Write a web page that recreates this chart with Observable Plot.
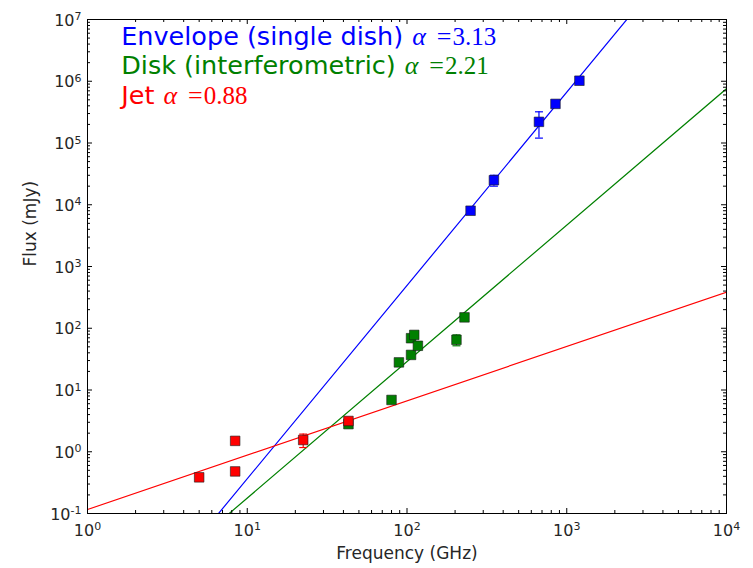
<!DOCTYPE html>
<html>
<head>
<meta charset="utf-8">
<script src="https://cdn.jsdelivr.net/npm/d3@7"></script>
<script src="https://cdn.jsdelivr.net/npm/@observablehq/plot@0.6"></script>
<style>
  body { margin: 0; background: #fff; }
</style>
</head>
<body>
<div id="chart"></div>
<script>
// Envelope (single-dish) continuum fluxes
const envFreq = [250, 350, 670, 850, 1200];            // GHz
const envFlux = [8000, 25000, 220000, 430000, 1020000]; // mJy
const envErr  = [800, 5000, 100000, 45000, 100000];

// Disk (interferometric) fluxes
const diskFreq = [43, 80, 89, 106, 106, 111, 117, 204, 229];
const diskFlux = [2.8, 6.9, 28, 37, 69, 78, 52, 65, 150];
const diskErr  = [0.3, 0.7, 2.8, 3.7, 6.9, 7.8, 5.2, 13, 15];

// Jet (free-free) fluxes
const jetFreq = [5, 8.4, 8.4, 22.4, 43];
const jetFlux = [0.385, 1.5, 0.48, 1.55, 3.15];
const jetErr  = [0.04, 0.15, 0.05, 0.38, 0.3];

// Power-law fits S = A * nu^alpha
const seriesNames  = ["Envelope (single dish)", "Disk (interferometric)", "Jet"];
const seriesColors = ["#0000ff", "#008000", "#ff0000"];
const fitAlpha  = [3.13, 2.21, 0.88];
const fitLogAmp = [-3.567, -2.96, -0.935];
const fitRange  = [1, 10000];

// Axis ticks
const xTicks = [1, 10, 100, 1000, 10000];
const yTicks = [0.1, 1, 10, 100, 1e3, 1e4, 1e5, 1e6, 1e7];

const W = 753, H = 568;
const mL = 87, mR = 27, mT = 19, mB = 55;
const plotW = W - mL - mR, plotH = H - mT - mB;

const minorOf = majors => majors.slice(0, -1).flatMap(m => d3.range(2, 10).map(k => k * m));
const xMinor = minorOf(xTicks);
const yMinor = minorOf(yTicks);

const rows = (freq, flux, err) => freq.map((f, i) => ({f, s: flux[i], e: err[i]}));
const series = [
  rows(envFreq, envFlux, envErr),
  rows(diskFreq, diskFlux, diskErr),
  rows(jetFreq, jetFlux, jetErr)
];
const fits = fitAlpha.map((a, i) => fitRange.map(f => ({f, s: Math.pow(10, fitLogAmp[i]) * Math.pow(f, a)})));

// horizontal cap for error bars
const capSymbol = {
  draw(context, size) {
    const w = Math.sqrt(size) / 2;
    context.moveTo(-w, 0);
    context.lineTo(w, 0);
  }
};

const exponent = v => Math.round(Math.log10(v));

const marks = [];

// fitted power laws
series.forEach((_, i) => {
  marks.push(Plot.line(fits[i], {x: "f", y: "s", stroke: seriesColors[i], strokeWidth: 1.2, clip: true}));
});

// error bars and data points
series.forEach((data, i) => {
  marks.push(Plot.ruleX(data, {x: "f", y1: d => d.s - d.e, y2: d => d.s + d.e, stroke: seriesColors[i], strokeWidth: 1.2}));
  marks.push(Plot.dot(data, {x: "f", y: d => d.s - d.e, symbol: capSymbol, r: 4.5, stroke: seriesColors[i], strokeWidth: 1.2, fill: "none"}));
  marks.push(Plot.dot(data, {x: "f", y: d => d.s + d.e, symbol: capSymbol, r: 4.5, stroke: seriesColors[i], strokeWidth: 1.2, fill: "none"}));
});
series.forEach((data, i) => {
  marks.push(Plot.dot(data, {x: "f", y: "s", symbol: "square", r: 5.4, fill: seriesColors[i], stroke: "#1a1a1a", strokeWidth: 0.6}));
});

// inward ticks on all four sides
marks.push(
  Plot.tickX(xTicks, {x: d => d, insetTop: plotH - 5, stroke: "black"}),
  Plot.tickX(xTicks, {x: d => d, insetBottom: plotH - 5, stroke: "black"}),
  Plot.tickX(xMinor, {x: d => d, insetTop: plotH - 3, stroke: "black"}),
  Plot.tickX(xMinor, {x: d => d, insetBottom: plotH - 3, stroke: "black"}),
  Plot.tickY(yTicks, {y: d => d, insetRight: plotW - 5, stroke: "black"}),
  Plot.tickY(yTicks, {y: d => d, insetLeft: plotW - 5, stroke: "black"}),
  Plot.tickY(yMinor, {y: d => d, insetRight: plotW - 3, stroke: "black"}),
  Plot.tickY(yMinor, {y: d => d, insetLeft: plotW - 3, stroke: "black"})
);

// tick labels (powers of ten)
marks.push(
  Plot.axisX({ticks: xTicks, tickSize: 0, tickPadding: 11, tickFormat: d => `10^${exponent(d)}`, label: null, fontSize: 16, fill: "#262626"}),
  Plot.axisY({ticks: yTicks, tickSize: 0, tickPadding: 6, tickFormat: d => `10^${exponent(d)}`, label: null, fontSize: 16, fill: "#262626", dy: 1})
);

// axis titles
marks.push(
  Plot.text(["Frequency (GHz)"], {frameAnchor: "bottom", text: d => d, dy: 45, fontSize: 17, fill: "#262626"}),
  Plot.text(["Flux (mJy)"], {frameAnchor: "left", text: d => d, rotate: -90, dx: -57, fontSize: 17, fill: "#262626"})
);

// legend lines inside the axes
seriesNames.forEach((name, i) => {
  marks.push(Plot.text([name], {
    frameAnchor: "top-left", text: d => d, textAnchor: "start", lineAnchor: "top",
    dx: 33.7, dy: 7.2 + 29.5 * i, fontSize: 25.5, fill: seriesColors[i]
  }));
});

marks.push(Plot.frame({stroke: "black", strokeWidth: 1}));

const chart = Plot.plot({
  width: W,
  height: H,
  marginLeft: mL,
  marginRight: mR,
  marginTop: mT,
  marginBottom: mB,
  style: {fontFamily: "DejaVu Sans", fontSize: "16px", background: "white", overflow: "visible"},
  x: {type: "log", domain: [1, 1e4]},
  y: {type: "log", domain: [0.1, 1e7]},
  marks
});

// render exponents as superscripts
d3.select(chart).selectAll("text").each(function () {
  const t = d3.select(this);
  const m = /^10\^(-?\d+)$/.exec(t.text());
  if (!m) return;
  t.text("10");
  t.append("tspan").attr("dy", "-5.5px").attr("font-size", "11px").text(m[1]);
});

// append the fitted spectral index after each legend name
d3.select(chart).selectAll("text").each(function () {
  const t = d3.select(this);
  const i = seriesNames.indexOf(t.text());
  if (i < 0) return;
  t.append("tspan").attr("dx", 9).attr("font-family", "Liberation Serif").attr("font-style", "italic").attr("font-size", 26).text("α");
  t.append("tspan").attr("dx", 11).attr("font-family", "Liberation Serif").attr("font-size", 26).text("=");
  t.append("tspan").attr("dx", 1).attr("font-family", "Liberation Serif").attr("font-size", 25).text(fitAlpha[i].toFixed(2));
});

document.getElementById("chart").appendChild(chart);
</script>
</body>
</html>
